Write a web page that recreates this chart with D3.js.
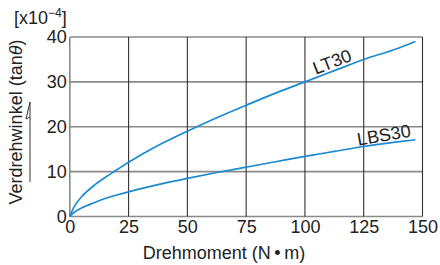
<!DOCTYPE html>
<html><head><meta charset="utf-8">
<script src="https://cdn.jsdelivr.net/npm/d3@7"></script>
<style>body{margin:0;background:#fff}text{font-family:"Liberation Sans",Arial,sans-serif;fill:#222}</style>
</head><body><svg id="c" width="440" height="265"></svg>
<script>
const xTicks = [0, 25, 50, 75, 100, 125, 150];
const yTicks = [0, 10, 20, 30, 40];
const torque = [0, 2, 5, 10, 15, 20, 25, 37.5, 50, 62.5, 75, 87.5, 100, 112.5, 125, 137.5, 147];
const lt30 = [0, 2.3, 4.4, 6.8, 8.7, 10.4, 12.1, 15.8, 19, 22, 24.8, 27.5, 30, 32.5, 35, 37.1, 39];
const lbs30 = [0, 1.0, 1.9, 3.0, 4.0, 4.8, 5.5, 7.1, 8.5, 9.8, 11, 12.2, 13.4, 14.5, 15.6, 16.5, 17.1];
const seriesNames = ["LT30", "LBS30"];

const svg = d3.select("#c");
const x = d3.scaleLinear().domain([0, 150]).range([69.8, 422.5]);
const y = d3.scaleLinear().domain([0, 40]).range([216.5, 37]);
const FS = 18;

svg.append("g").selectAll("line").data(yTicks).join("line")
  .attr("x1", x(0)).attr("x2", x(150)).attr("y1", d => y(d)).attr("y2", d => y(d))
  .attr("stroke", "#8a8a8a").attr("stroke-width", 1.6);
svg.append("g").selectAll("line").data(xTicks.slice(1)).join("line")
  .attr("x1", d => x(d)).attr("x2", d => x(d)).attr("y1", y(40)).attr("y2", y(0))
  .attr("stroke", "#333").attr("stroke-width", 1.1);
svg.append("line").attr("x1", x(0)).attr("x2", x(0)).attr("y1", y(40)).attr("y2", y(0))
  .attr("stroke", "#8a8a8a").attr("stroke-width", 1.6);

const xAxis = svg.append("g").attr("transform", `translate(0,${y(0)})`)
  .call(d3.axisBottom(x).tickValues(xTicks).tickSize(0).tickPadding(4));
xAxis.select(".domain").remove();
xAxis.selectAll("text").attr("font-size", FS).attr("fill", "#222").attr("font-family", "Liberation Sans, Arial, sans-serif");
const yAxis = svg.append("g").attr("transform", `translate(${x(0)},0)`)
  .call(d3.axisLeft(y).tickValues(yTicks).tickSize(0).tickPadding(3));
yAxis.select(".domain").remove();
yAxis.selectAll("text").attr("font-size", FS).attr("fill", "#222").attr("font-family", "Liberation Sans, Arial, sans-serif");

const line = d3.line().x((d, i) => x(torque[i])).y(d => y(d)).curve(d3.curveCatmullRom.alpha(0.5));
[lt30, lbs30].forEach(s => {
  svg.append("path").attr("d", line(s)).attr("fill", "none")
    .attr("stroke", "#1a8ad2").attr("stroke-width", 1.7);
});

svg.append("text").text(seriesNames[0]).attr("font-size", FS)
  .attr("transform", `translate(${x(112.5)},${y(33.2)}) rotate(-21)`).attr("text-anchor", "middle");
svg.append("text").text(seriesNames[1]).attr("font-size", FS)
  .attr("transform", `translate(${x(134)},${y(16.8)}) rotate(-10)`).attr("text-anchor", "middle");

svg.append("text").attr("x", 224).attr("y", 259).attr("text-anchor", "middle").attr("font-size", FS)
  .text("Drehmoment (N\u2009\u2022\u2009m)");
const yt = svg.append("text").attr("transform", "translate(22,122) rotate(-90)").attr("text-anchor", "middle")
  .attr("font-size", FS);
yt.append("tspan").text("Verdrehwinkel (tan");
yt.append("tspan").attr("font-style", "italic").text("\u03B8");
yt.append("tspan").text(")");
const unit = svg.append("text").attr("x", 14).attr("y", 24).attr("font-size", FS);
unit.append("tspan").text("[x10");
unit.append("tspan").attr("dy", -7).attr("font-size", 12).text("\u22124");
unit.append("tspan").attr("dy", 7).text("]");

svg.append("path").attr("d", "M30,182 L30,102 L26,119 L30,117").attr("fill", "none")
  .attr("stroke", "#333").attr("stroke-width", 1);
</script></body></html>
